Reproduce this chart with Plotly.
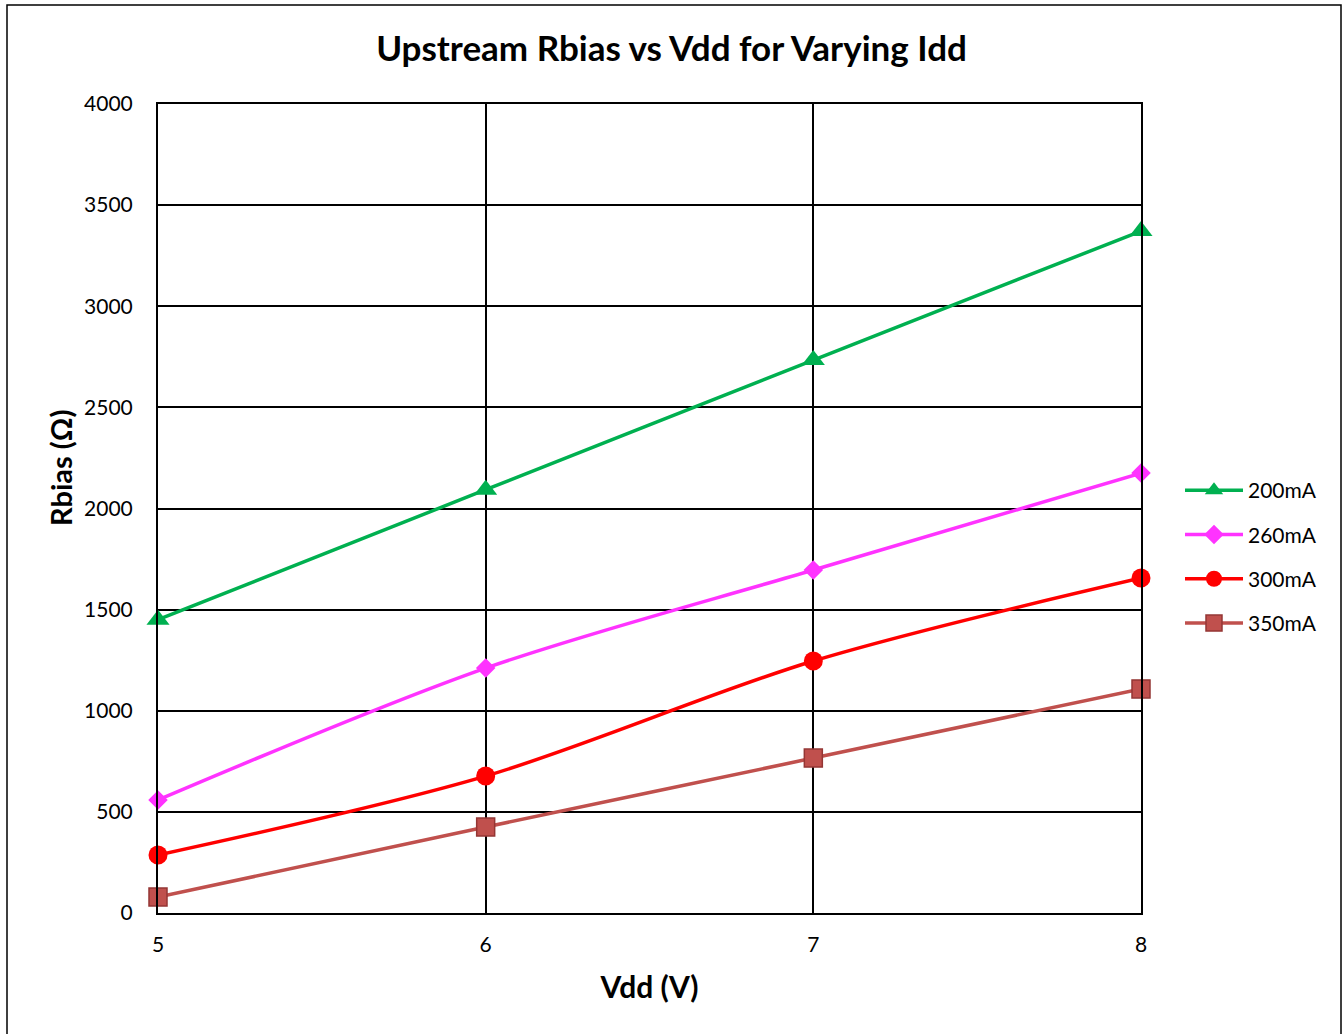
import plotly.graph_objects as go

vdd = [5, 6, 7, 8]
r_200 = [1450, 2093, 2734, 3372]
r_260 = [559, 1211, 1696, 2175]
r_300 = [287, 677, 1246, 1656]
r_350 = [79, 425, 766, 1108]
names = ["200mA", "260mA", "300mA", "350mA"]
colors = ["#00B050", "#FF33FF", "#FF0000", "#C0504D"]
symbols = ["triangle-up", "diamond", "circle", "square"]
sizes = [20, 15, 19, 18]
series = [r_200, r_260, r_300, r_350]

fig = go.Figure()
for n, c, s, sz, y in zip(names, colors, symbols, sizes, series):
    mline = dict(width=1.5, color="#943634") if n == "350mA" else dict(width=0)
    fig.add_trace(go.Scatter(
        x=vdd, y=y, name=n, mode="lines+markers", legendgroup=n,
        cliponaxis=False,
        line=dict(color=c, width=3.5, shape="spline", smoothing=0.9),
        marker=dict(symbol=s, size=sz, color=c, line=mline),
    ))

L, R, T, B = 158, 202, 104, 121
W, H = 1343, 1034
pw, ph = W - L - R, H - T - B

def px(x):
    return (x - L) / pw

def py(y):
    return (H - B - y) / ph

fig.update_layout(
    width=W, height=H,
    margin=dict(l=L, r=R, t=T, b=B),
    paper_bgcolor="white", plot_bgcolor="white",
    font=dict(family="Lato, Carlito, Open Sans, sans-serif", size=21, color="black"),
    title=dict(text="<b>Upstream Rbias vs Vdd for Varying Idd</b>",
               x=0.5, xanchor="center", y=1 - 49 / H, yanchor="middle",
               font=dict(size=35)),
    xaxis=dict(range=[5, 8], tickvals=vdd, ticktext=[str(v) for v in vdd],
               showgrid=True, gridcolor="black", gridwidth=2,
               showline=True, linecolor="black", linewidth=2, mirror=True,
               zeroline=False, ticks="", ticklabelstandoff=12,
               title=dict(text="<b>Vdd (V)</b>", font=dict(size=30), standoff=22)),
    yaxis=dict(range=[0, 4000], tickvals=list(range(0, 4001, 500)),
               showgrid=True, gridcolor="black", gridwidth=2,
               showline=True, linecolor="black", linewidth=2, mirror=True,
               zeroline=False, ticks="", ticklabelstandoff=19),
    legend=dict(x=px(1180), y=py(470), xanchor="left", yanchor="top",
                font=dict(size=21), bgcolor="rgba(0,0,0,0)",
                tracegroupgap=14, itemwidth=58),
    annotations=[dict(text="<b>Rbias (Ω)</b>", xref="paper", yref="paper",
                      x=px(60), y=py(468), xanchor="center", yanchor="middle",
                      textangle=-90, showarrow=False, font=dict(size=29))],
    shapes=[dict(type="rect", xref="paper", yref="paper",
                 x0=px(7), x1=px(1341), y0=py(1040), y1=py(5),
                 line=dict(color="black", width=1.5), layer="below")],
)

fig.write_html("out.html", config={"displayModeBar": False},
               post_script="document.body.style.margin='0';document.body.style.overflow='hidden';")
